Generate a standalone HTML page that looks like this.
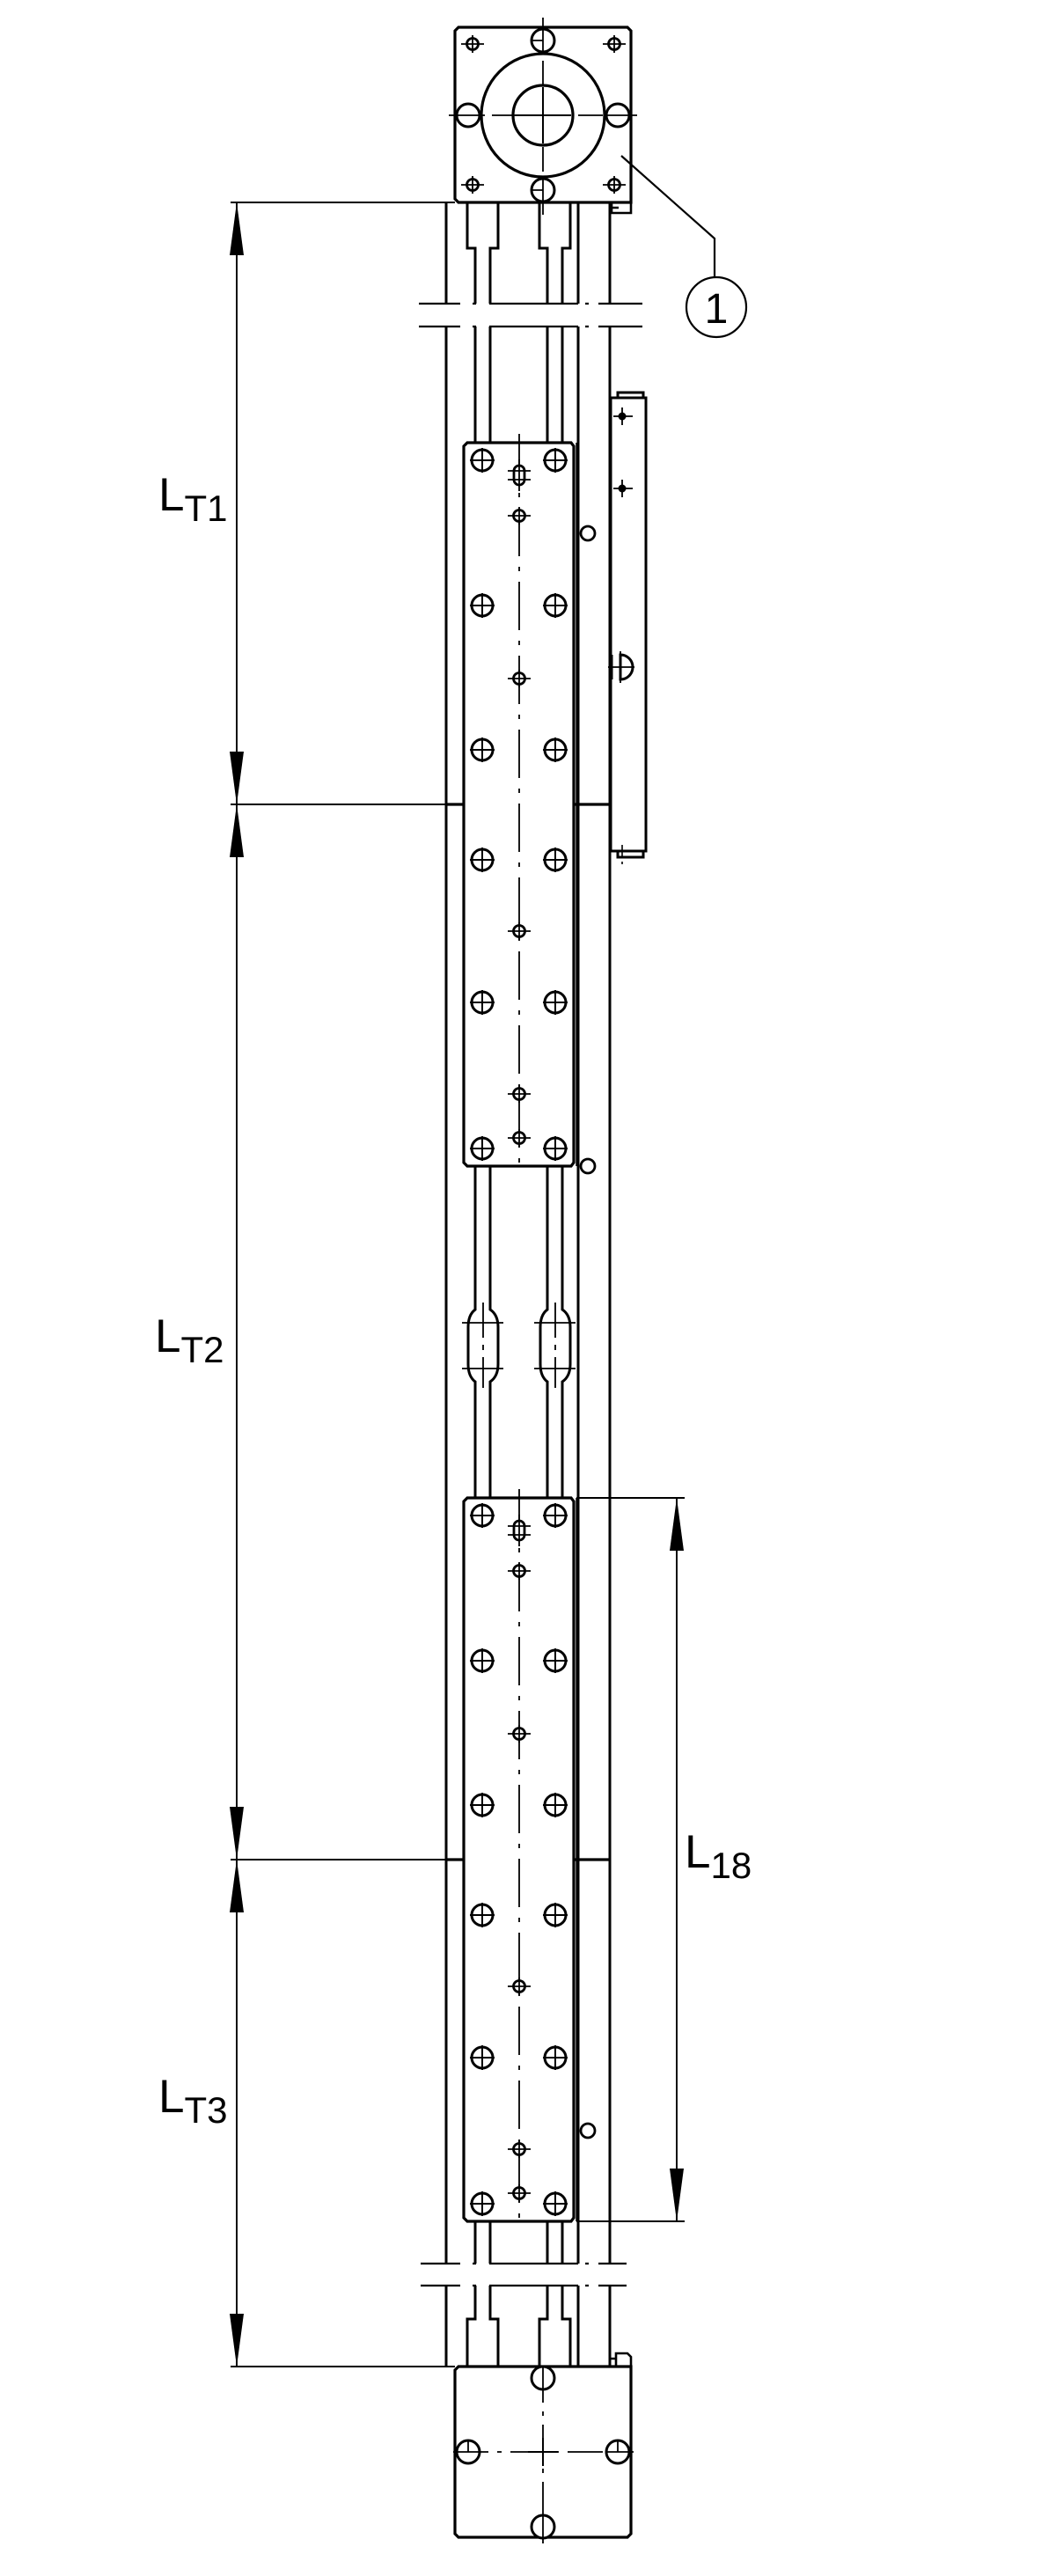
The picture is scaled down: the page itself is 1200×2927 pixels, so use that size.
<!DOCTYPE html>
<html><head><meta charset="utf-8"><style>
html,body{margin:0;padding:0;background:#fff;}
svg{display:block;}
text{font-family:"Liberation Sans",sans-serif;fill:#000;}
</style></head><body>
<svg width="1200" height="2927" viewBox="0 0 1200 2927" xmlns="http://www.w3.org/2000/svg">
<defs>
<g id="hole"><circle r="12" fill="#fff" stroke="#000" stroke-width="3"/><path d="M-14 0H14M0 -14V14" stroke="#000" stroke-width="2"/></g>
<g id="sh"><circle r="6.5" fill="#fff" stroke="#000" stroke-width="2.8"/><path d="M-13 0H13M0 -10V10" stroke="#000" stroke-width="1.8"/></g>
<g id="slot"><rect x="-6" y="-11" width="12" height="22" rx="6" fill="#fff" stroke="#000" stroke-width="2.8"/><path d="M-13 -5H13M-13 5H13M0 -18V18" stroke="#000" stroke-width="1.8"/></g>
<g id="carriage">
<path d="M531 0H649L652 4V818L649 822H531L527 818V4Z" fill="#fff" stroke="#000" stroke-width="3.2"/>
<line x1="655.5" y1="0" x2="655.5" y2="822" stroke="#000" stroke-width="2.4"/>
<line x1="590" y1="-10" x2="590" y2="830" stroke="#000" stroke-width="1.8" stroke-dasharray="55 12 5 12"/>
<use href="#hole" x="548" y="20"/><use href="#hole" x="631" y="20"/>
<use href="#hole" x="548" y="185"/><use href="#hole" x="631" y="185"/>
<use href="#hole" x="548" y="349"/><use href="#hole" x="631" y="349"/>
<use href="#hole" x="548" y="474"/><use href="#hole" x="631" y="474"/>
<use href="#hole" x="548" y="636"/><use href="#hole" x="631" y="636"/>
<use href="#hole" x="548" y="802"/><use href="#hole" x="631" y="802"/>
<use href="#slot" x="590" y="37"/>
<use href="#sh" x="590" y="83"/><use href="#sh" x="590" y="268"/>
<use href="#sh" x="590" y="555"/><use href="#sh" x="590" y="740"/><use href="#sh" x="590" y="790"/>
</g>
<g id="bulge" fill="none" stroke="#000" stroke-width="3">
<path d="M540 0V8Q532 14 532 28V70Q532 84 540 90V97"/>
<path d="M557 0V8Q566 14 566 28V70Q566 84 557 90V97"/>
<path d="M525 23H572M525 75H572" stroke-width="1.8"/>
<line x1="549" y1="0" x2="549" y2="97" stroke-width="1.8" stroke-dasharray="40 8 6 8"/>
</g>
</defs>

<g stroke="#000" stroke-width="3" fill="none">
<path d="M507 230V345M507 371V2572M507 2597V2689"/>
<path d="M693 230V345M693 371V2572M693 2597V2689"/>
<path d="M657 230V345M657 371V2572M657 2597V2689"/>
<path d="M531 230V282H540V345M566 230V282H557V345"/>
<path d="M613 230V282H622V345M648 230V282H639V345"/>
<path d="M540 371V1480M557 371V1480M622 371V1480M639 371V1480"/>
<path d="M540 1577V2572M557 1577V2572M622 1577V2572M639 1577V2572"/>
<path d="M540 2597V2635H531V2689M557 2597V2635H566V2689"/>
<path d="M622 2597V2635H613V2689M639 2597V2635H648V2689"/>
</g>
<g stroke="#000" stroke-width="2.2">
<path d="M476 345H523M537 345H541M556 345H657M665 345H669M680 345H730"/>
<path d="M476 371H523M537 371H541M556 371H657M665 371H669M680 371H730"/>
<path d="M478 2572H523M537 2572H541M556 2572H657M665 2572H669M680 2572H712"/>
<path d="M478 2597H523M537 2597H541M556 2597H657M665 2597H669M680 2597H712"/>
</g>
<use href="#bulge" x="0" y="1480"/>
<use href="#bulge" x="82" y="1480"/>

<g stroke="#000" stroke-width="3" fill="#fff">
<rect x="702" y="446" width="29" height="7"/>
<rect x="694" y="452" width="40" height="515"/>
<rect x="702" y="967" width="29" height="7"/>
<path d="M705 744A14 14 0 0 1 705 772Z"/>
</g>
<line x1="694" y1="744" x2="694" y2="772" stroke="#000" stroke-width="5"/>
<path d="M691 758H721M705 740V776" stroke="#000" stroke-width="1.8"/>
<path d="M707 960V984" stroke="#000" stroke-width="1.6" stroke-dasharray="14 5 3 5"/>
<g><circle cx="707" cy="473" r="4.5" fill="#000"/><path d="M697 473H719M707 463V483" stroke="#000" stroke-width="1.8"/></g>
<g><circle cx="707" cy="555" r="4.5" fill="#000"/><path d="M697 555H719M707 545V565" stroke="#000" stroke-width="1.8"/></g>

<g fill="#fff" stroke="#000" stroke-width="2.8">
<circle cx="668" cy="606" r="8"/><circle cx="668" cy="1325" r="8"/><circle cx="668" cy="2421" r="8"/>
</g>

<use href="#carriage" x="0" y="503"/>
<use href="#carriage" x="0" y="1702"/>

<g stroke="#000" fill="none">
<path d="M521 31H713L717 35V230H521L517 226V35Z" fill="#fff" stroke-width="3.2"/>
<path d="M695 230V242H717V230M695 236H703" stroke-width="2.6"/>
<circle cx="617" cy="131" r="70" stroke-width="3.2"/>
<circle cx="617" cy="131" r="34" stroke-width="3.2"/>
<path d="M510 131H724" stroke-width="1.8" stroke-dasharray="28 8 5 8"/>
<path d="M617 20V245" stroke-width="1.8" stroke-dasharray="28 8 5 8"/>
<path d="M585 131H649M617 99V163" stroke-width="2"/>
<circle cx="532" cy="131" r="13" stroke-width="3" fill="#fff"/>
<circle cx="702" cy="131" r="13" stroke-width="3" fill="#fff"/>
<circle cx="617" cy="46" r="13" stroke-width="3" fill="#fff"/>
<circle cx="617" cy="216" r="13" stroke-width="3" fill="#fff"/>
<path d="M519 131H545M689 131H715M617 33V59M617 203V229M604 46H617M604 216H617" stroke-width="1.8"/>
</g>
<g>
<use href="#sh" x="537" y="50"/><use href="#sh" x="698" y="50"/>
<use href="#sh" x="537" y="210"/><use href="#sh" x="698" y="210"/>
</g>

<g stroke="#000" fill="none">
<path d="M521 2689H717V2879L713 2883H521L517 2879V2693Z" fill="#fff" stroke-width="3.2"/>
<path d="M700 2689V2674H713L717 2678V2689M694 2680H700" stroke-width="2.6"/>
<path d="M515 2786H720M617 2690V2890" stroke-width="1.8" stroke-dasharray="40 10 5 10"/>
<path d="M600 2786H634M617 2770V2802" stroke-width="2"/>
<circle cx="617" cy="2702" r="13" stroke-width="3" fill="#fff"/>
<circle cx="617" cy="2871" r="13" stroke-width="3" fill="#fff"/>
<circle cx="532" cy="2786" r="13" stroke-width="3" fill="#fff"/>
<circle cx="702" cy="2786" r="13" stroke-width="3" fill="#fff"/>
<path d="M617 2689V2715M617 2858V2884M519 2786H545M689 2786H715M532 2773V2786M702 2773V2786" stroke-width="1.8"/>
</g>

<g stroke="#000" stroke-width="3.2">
<path d="M507 914H527M652 914H693M507 2113H527M652 2113H693"/>
</g>

<g stroke="#000" stroke-width="1.9" fill="none">
<path d="M262 230H517M262 914H507M262 2113H507M262 2689H517"/>
<path d="M269 230V2689"/>
<path d="M655 1702H778M655 2524H778"/>
<path d="M769 1702V2524"/>
</g>
<g fill="#000">
<path d="M269 230L261 290H277Z"/><path d="M269 914L261 854H277Z"/>
<path d="M269 914L261 974H277Z"/><path d="M269 2113L261 2053H277Z"/>
<path d="M269 2113L261 2173H277Z"/><path d="M269 2689L261 2629H277Z"/>
<path d="M769 1702L761 1762H777Z"/><path d="M769 2524L761 2464H777Z"/>
</g>

<path d="M706 177L812 271V315" stroke="#000" stroke-width="2.2" fill="none"/>
<ellipse cx="814" cy="349" rx="34" ry="34" stroke="#000" stroke-width="2.2" fill="#fff"/>
<text x="814" y="367" font-size="48" text-anchor="middle">1</text>

<text x="180" y="580" font-size="53">L<tspan font-size="42" dy="12">T1</tspan></text>
<text x="176" y="1536" font-size="53">L<tspan font-size="42" dy="12">T2</tspan></text>
<text x="180" y="2400" font-size="53">L<tspan font-size="42" dy="12">T3</tspan></text>
<text x="778" y="2122" font-size="53">L<tspan font-size="42" dy="12">18</tspan></text>
</svg>
</body></html>
